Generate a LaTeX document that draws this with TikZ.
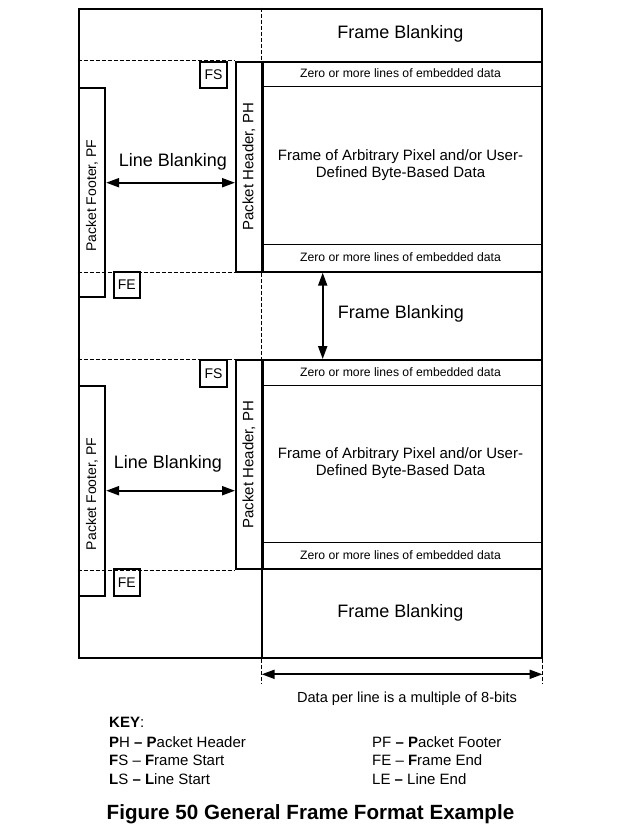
\documentclass[tikz,border=0pt]{standalone}
\usepackage{fontspec}
\setmainfont{Liberation Sans}
\usetikzlibrary{arrows.meta}
\newcommand{\fsz}[1]{\fontsize{#1}{#1}\selectfont}
\begin{document}
\begin{tikzpicture}[x=1pt,y=-1pt,
  box/.style={draw, line width=2pt, inner sep=0pt, anchor=north west},
  guide/.style={line width=0.7pt, dash pattern=on 4.5pt off 1.5pt},
  strip/.style={line width=0.8pt},
  heavy/.style={line width=2pt},
  dimline/.style={line width=2pt, {Triangle[length=13pt,width=9pt]}-{Triangle[length=13pt,width=9pt]}},
  big/.style={font=\fsz{18}},
  small/.style={font=\fsz{12.2}},
  mid/.style={font=\fsz{15}, align=center},
  tag/.style={font=\fsz{14}},
  keytext/.style={font=\fsz{15}, anchor=west, inner sep=0pt}]

\useasboundingbox (0,0) rectangle (629,831);

% outer frame
\node[box, minimum width=463pt, minimum height=649pt] (outer) at (77.5,7.5) {};

% first frame
\node[box, minimum width=26.4pt, minimum height=26.6pt, tag] (fs1) at (199.3,60.7) {FS};
\node[box, minimum width=25.7pt, minimum height=210pt] (ph1) at (235,60.7) {};
\node[box, minimum width=26.3pt, minimum height=208.7pt] (pf1) at (77.8,87.3) {};
\node[box, minimum width=26.3pt, minimum height=26pt, tag] (fe1) at (112.7,270.7) {FE};
\node[box, minimum width=278.8pt, minimum height=210pt] (data1) at (261.7,60.7) {};

% second frame
\node[box, minimum width=26.4pt, minimum height=27pt, tag] (fs2) at (199.3,359) {FS};
\node[box, minimum width=25.7pt, minimum height=209.3pt] (ph2) at (235,359) {};
\node[box, minimum width=26.3pt, minimum height=210pt] (pf2) at (77.8,385) {};
\node[box, minimum width=26.3pt, minimum height=26.7pt, tag] (fe2) at (112.7,568.3) {FE};
\node[box, minimum width=278.8pt, minimum height=209.3pt] (data2) at (261.7,359) {};

% rotated header / footer labels
\node[rotate=90, font=\fsz{15}] (phl1) at (ph1.center) {Packet Header, PH};
\node[rotate=90, font=\fsz{14}] (pfl1) at ([yshift=-3pt]pf1.center) {Packet Footer, PF};
\node[rotate=90, font=\fsz{15}] (phl2) at (ph2.center) {Packet Header, PH};
\node[rotate=90, font=\fsz{14}] (pfl2) at ([yshift=-3pt]pf2.center) {Packet Footer, PF};

% dashed guides
\draw[guide] (outer.north west |- ph1.north) -- (ph1.north west);
\draw[guide] (outer.north west |- ph1.south) -- (ph1.south west);
\draw[guide] (outer.north west |- ph2.north) -- (ph2.north west);
\draw[guide] (outer.north west |- ph2.south) -- (ph2.south west);
\draw[guide] (data1.north west |- outer.north) -- (data1.north west);
\draw[guide] (data1.south west) -- (data2.north west);
\draw[heavy] (data2.south west) -- (data2.south west |- outer.south);

% embedded data strips
\coordinate (e1) at (0,86);
\coordinate (e2) at (0,244.3);
\coordinate (e3) at (0,385);
\coordinate (e4) at (0,542.3);
\draw[strip] (data1.west |- e1) -- (data1.east |- e1);
\draw[strip] (data1.west |- e2) -- (data1.east |- e2);
\draw[strip] (data2.west |- e3) -- (data2.east |- e3);
\draw[strip] (data2.west |- e4) -- (data2.east |- e4);

\node[small] (z1) at (400.5,73) {Zero or more lines of embedded data};
\node[small] (z2) at (400.5,257.5) {Zero or more lines of embedded data};
\node[small] (z3) at (400.5,372) {Zero or more lines of embedded data};
\node[small] (z4) at (400.5,555.3) {Zero or more lines of embedded data};

\node[mid] (d1) at (400.5,165.5) {Frame of Arbitrary Pixel and/or User-\\[2pt]Defined Byte-Based Data};
\node[mid] (d2) at (400.5,463.5) {Frame of Arbitrary Pixel and/or User-\\[2pt]Defined Byte-Based Data};

% frame blanking
\node[big] (fb1) at (400.5,34) {Frame Blanking};
\node[big] (fb2) at (401,314) {Frame Blanking};
\node[big] (fb3) at (400.5,612.5) {Frame Blanking};
\coordinate (va) at (322.7,0);
\draw[dimline] (data1.south west -| va) -- (data2.north west -| va);

% line blanking
\coordinate (lb1) at (0,182.7);
\coordinate (lb2) at (0,490.7);
\node[big] (lbt1) at (173,161.5) {Line Blanking};
\node[big] (lbt2) at (168,464) {Line Blanking};
\draw[dimline] (pf1.east |- lb1) -- (ph1.west |- lb1);
\draw[dimline] (pf2.east |- lb2) -- (ph2.west |- lb2);

% data width dimension
\coordinate (dw) at (0,683);
\coordinate (da) at (0,674.3);
\draw[guide] (data2.south west |- outer.south) -- (data2.south west |- dw);
\draw[guide] (outer.south east) -- (outer.south east |- dw);
\draw[dimline] (data2.south west |- da) -- (outer.south east |- da);
\node[font=\fsz{14.6}] (dwl) at (407,699) {Data per line is a multiple of 8-bits};

% key
\node[keytext] (key) at (109,722.5) {\textbf{KEY}:};
\node[keytext] (k1) at (109,742) {\textbf{P}H \textbf{–} \textbf{P}acket Header};
\node[keytext] (k2) at (109,760.5) {\textbf{F}S – \textbf{F}rame Start};
\node[keytext] (k3) at (109,779) {\textbf{L}S \textbf{–} \textbf{L}ine Start};
\node[keytext] (k4) at (372,742) {PF \textbf{–} \textbf{P}acket Footer};
\node[keytext] (k5) at (372,760.5) {FE – \textbf{F}rame End};
\node[keytext] (k6) at (372,779) {LE \textbf{–} Line End};

\node[font=\fsz{20.6}\bfseries] (cap) at (310.5,814.5) {Figure 50 General Frame Format Example};
\end{tikzpicture}
\end{document}
